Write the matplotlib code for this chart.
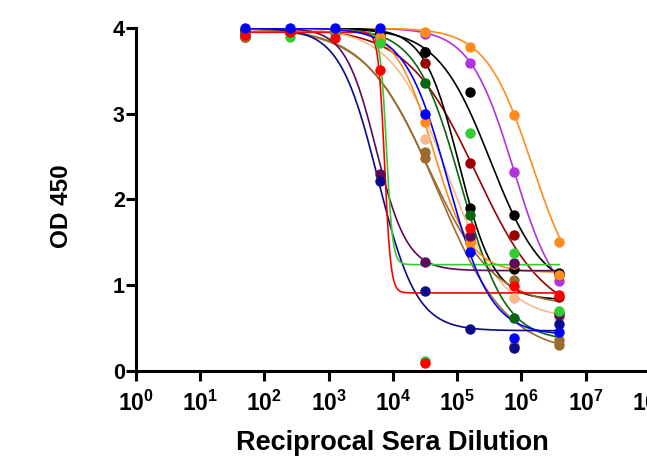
import numpy as np
import matplotlib
matplotlib.use("Agg")
import matplotlib.pyplot as plt

plt.rcParams['font.family'] = ['Liberation Sans', 'DejaVu Sans']
plt.rcParams['font.weight'] = 'bold'
plt.rcParams['mathtext.fontset'] = 'custom'
plt.rcParams['mathtext.rm'] = 'Liberation Sans:bold'
plt.rcParams['mathtext.bf'] = 'Liberation Sans:bold'

# reciprocal dilutions (1:50, 5-fold series)
dilutions = [50, 250, 1250, 6250, 31250, 156250, 781250, 3906250]

# OD450 readings per serum sample
od_violet = [3.98, 3.98, 3.98, 3.97, 3.93, 3.59, 2.32, 1.05]
od_orange_hi = [3.98, 3.98, 3.98, 3.97, 3.95, 3.78, 2.98, 1.50]
od_black_hi = [3.97, 3.97, 3.97, 3.93, 3.72, 3.25, 1.82, 1.14]
od_darkred = [3.90, 3.95, 3.95, 3.93, 3.59, 2.43, 1.59, 0.86]
od_black_lo = [3.97, 3.97, 3.97, 3.95, 3.72, 1.90, 1.19, 1.12]
od_peach = [3.95, 3.95, 3.95, 3.90, 2.70, 1.55, 0.85, 0.62]
od_brown_a = [3.90, 3.95, 3.95, 3.85, 2.55, 1.55, 1.06, 0.36]
od_brown_b = [3.90, 3.95, 3.95, 3.85, 2.48, 1.50, 0.29, 0.30]
od_darkgreen = [3.95, 3.95, 3.95, 3.90, 3.36, 1.82, 0.62, 0.68]
od_orange_lo = [3.95, 3.95, 3.95, 3.90, 2.90, 1.49, 1.25, 1.12]
od_purple = [3.95, 3.95, 3.95, 2.30, 1.27, 1.57, 1.26, 0.65]
od_navy = [3.93, 3.97, 3.97, 2.22, 0.93, 0.49, 0.27, 0.55]
od_green = [3.93, 3.90, 3.95, 3.82, 0.12, 2.78, 1.38, 0.70]
od_red = [3.92, 3.95, 3.88, 3.51, 0.09, 1.67, 0.99, 0.89]
od_blue = [4.00, 4.00, 4.00, 4.00, 3.00, 1.39, 0.39, 0.45]

# 4PL fit parameters (top, bottom, log10 EC50, hill)
fit_violet = (4.0, 0.70, 5.88, 1.27)
fit_orange_hi = (4.0, 0.80, 6.17, 1.20)
fit_black_hi = (4.0, 0.90, 5.52, 1.05)
fit_darkred = (4.0, 0.60, 5.30, 0.80)
fit_black_lo = (4.0, 0.83, 5.03, 1.60)
fit_peach = (4.0, 0.60, 4.85, 1.00)
fit_brown_a = (4.0, 0.75, 4.55, 0.85)
fit_brown_b = (4.0, 0.20, 4.70, 0.80)
fit_darkgreen = (4.0, 0.35, 5.06, 1.25)
fit_orange_lo = (4.0, 1.15, 4.63, 1.50)
fit_purple = (4.0, 1.17, 3.74, 1.80)
fit_navy = (4.0, 0.47, 3.77, 1.45)
fit_green = (3.95, 1.24, 3.90, 9.0)
fit_red = (3.95, 0.91, 3.87, 9.0)
fit_blue = (4.0, 0.42, 4.86, 1.30)

series = [
    (od_violet, fit_violet, '#b232e0'),
    (od_orange_hi, fit_orange_hi, '#ff8c1a'),
    (od_black_hi, fit_black_hi, '#000000'),
    (od_darkred, fit_darkred, '#990000'),
    (od_black_lo, fit_black_lo, '#000000'),
    (od_peach, fit_peach, '#f5b98c'),
    (od_brown_a, fit_brown_a, '#9c6b2e'),
    (od_brown_b, fit_brown_b, '#9c6b2e'),
    (od_darkgreen, fit_darkgreen, '#0a6410'),
    (od_orange_lo, fit_orange_lo, '#ff8c1a'),
    (od_purple, fit_purple, '#5c0a5c'),
    (od_navy, fit_navy, '#0a0a8c'),
    (od_green, fit_green, '#33cc33'),
    (od_red, fit_red, '#ff0000'),
    (od_blue, fit_blue, '#0000ff'),
]


def four_pl(x, top, bottom, logec, hill):
    return bottom + (top - bottom) / (1 + 10 ** ((np.log10(x) - logec) * hill))


fig = plt.figure(figsize=(6.47, 4.68), dpi=100)
# axis runs to 1e8, the right part is cut off by the figure edge like the original
ax = fig.add_axes([0.2102, 0.2073, 0.794, 0.733])

xs = np.logspace(np.log10(dilutions[0]), np.log10(dilutions[-1]), 400)
for od, fit, col in series:
    ax.plot(xs, four_pl(xs, *fit), color=col, lw=1.2, zorder=2)
for od, fit, col in series:
    ax.plot(dilutions, od, 'o', color=col, ms=7.5, mec='none', zorder=3, clip_on=False)

ax.set_xscale('log')
ax.set_xlim(1, 1e8)
ax.set_ylim(0, 4)
ax.set_xticks([10 ** k for k in range(9)])
ax.set_xticklabels([r'$\mathbf{10^{%d}}$' % k for k in range(9)])
ax.xaxis.set_minor_locator(matplotlib.ticker.NullLocator())
ax.set_yticks([0, 1, 2, 3, 4])

for side in ['top', 'right']:
    ax.spines[side].set_visible(False)
for side in ['left', 'bottom']:
    ax.spines[side].set_linewidth(2.2)
ax.tick_params(width=2.2, length=7)
ax.tick_params(axis='x', labelsize=16.5, pad=7)
ax.tick_params(axis='y', labelsize=15.5, pad=1)
for lab in ax.get_yticklabels():
    lab.set_fontweight('bold')

ax.set_xlabel('Reciprocal Sera Dilution', fontsize=19.5, fontweight='bold', labelpad=10)
ax.set_ylabel('OD 450', fontsize=17.5, fontweight='bold')
ax.yaxis.set_label_coords(-0.122, 0.48)

fig.savefig('out.png', dpi=100)
